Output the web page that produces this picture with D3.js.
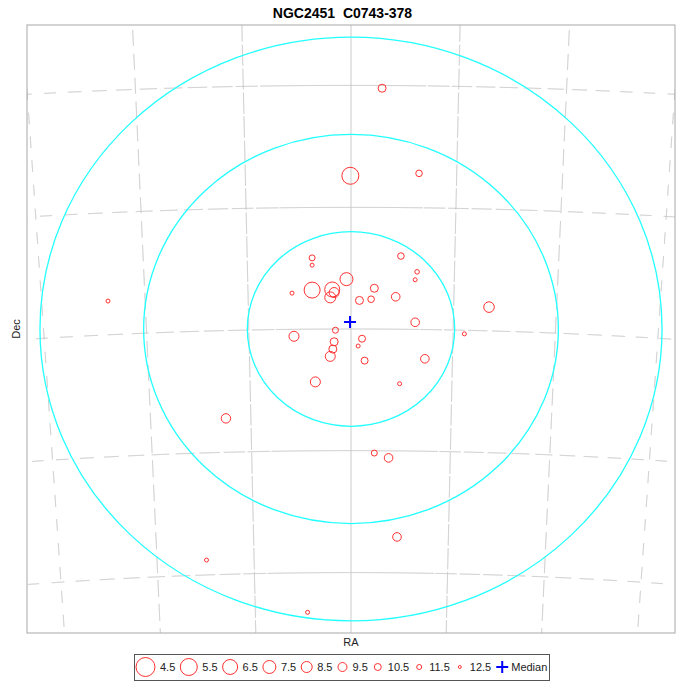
<!DOCTYPE html>
<html><head><meta charset="utf-8">
<script src="https://cdn.jsdelivr.net/npm/d3@7"></script>
<style>
body{margin:0;background:#fff;}
svg{display:block;font-family:"Liberation Sans",Arial,sans-serif;}
</style></head>
<body><svg id="c" width="685" height="682"></svg>
<script>
// ---- data ----
const title = "NGC2451  C0743-378";
const center = {ra: 116, dec: -38};          // tangent point (deg)
const gridStep = 2;                            // deg
const ringRadii = [1.6, 3.2, 4.8];             // deg
// standard coordinates (deg): xi to the right, eta up, plus magnitude
const starXi  = [-0.60,-0.60,-0.91,-0.60,-0.29,-0.26,-0.32,-0.07,0.36,0.13,0.31,0.69,0.77,1.02,0.99,0.99,-0.88,-0.24,0.17,0.11,-0.26,-0.28,-0.32,0.21,1.14,-0.55,0.75,0.48,-0.01,1.05,-3.75,2.13,1.75,-1.93,0.36,0.58,0.71,-2.23,-0.67];
const starEta = [1.17,1.05,0.59,0.64,0.65,0.60,0.52,0.82,0.67,0.47,0.49,0.53,1.20,0.94,0.81,0.11,-0.12,-0.02,-0.16,-0.28,-0.21,-0.33,-0.45,-0.52,-0.49,-0.87,-0.90,3.96,2.52,2.56,0.46,0.36,-0.08,-1.47,-2.04,-2.12,-3.42,-3.80,-4.66];
const starMag = [11.0,12.0,12.0,6.0,6.5,9.0,8.5,7.5,10.0,10.0,10.7,9.7,10.7,11.7,12.0,9.7,9.0,11.0,10.5,12.0,10.0,10.0,9.0,10.5,9.7,9.0,12.0,10.0,5.5,10.7,12.0,8.7,12.0,9.3,11.0,9.7,9.7,12.0,12.0];
const medianXi = -0.015, medianEta = 0.115;
const legendMags = [4.5,5.5,6.5,7.5,8.5,9.5,10.5,11.5,12.5];
const legendMedian = "Median";
const xLabel = "RA", yLabel = "Dec";

// ---- layout ----
const svg = d3.select("#c");
const X0=27, X1=675, Y0=25, Y1=633;
const xScale = d3.scaleLinear().domain([-5,5]).range([X0,X1]);
const yScale = d3.scaleLinear().domain([-5,5]).range([Y1,Y0]);
const rScale = d3.scaleLinear().domain([4.5,12.5]).range([9.5,1.5]);
const proj = d3.geoGnomonic().rotate([-center.ra,-center.dec]).scale(180/Math.PI).translate([0,0]);
const toPx = p => [xScale(p[0]), yScale(-p[1])];

svg.append("defs").append("clipPath").attr("id","clip")
  .append("rect").attr("x",X0).attr("y",Y0).attr("width",X1-X0).attr("height",Y1-Y0);
const plot = svg.append("g").attr("clip-path","url(#clip)");

// grid with fading dashes
const cxMid = xScale(0);
function dashedPath(pts){
  const P = 24;
  let d = "", pos = 0, drawing = false;
  for(let i=0;i<pts.length;i++){
    const p = pts[i];
    if(i>0){ const q=pts[i-1]; pos += Math.hypot(p[0]-q[0],p[1]-q[1]); }
    const off = Math.abs(p[0]-cxMid);
    const f = off<60 ? 1 : Math.max(0.5, 1-(off-60)/500);
    const vis = (pos % P) < P*f;
    if(vis){ d += (drawing?"L":"M") + p[0].toFixed(2)+","+p[1].toFixed(2); drawing=true; }
    else drawing=false;
  }
  return d;
}
const gridG = plot.append("g").attr("fill","none").attr("stroke","#c4c4c4").attr("stroke-width",1);
for(let k=-5;k<=5;k++){
  const ra = center.ra + k*gridStep, pts=[];
  for(let dec=center.dec-9; dec<=center.dec+9; dec+=0.01) pts.push(toPx(proj([ra,dec])));
  gridG.append("path").attr("d", dashedPath(pts));
}
for(let k=-4;k<=4;k++){
  const dec = center.dec + k*gridStep, pts=[];
  for(let ra=center.ra-14; ra<=center.ra+14; ra+=0.01) pts.push(toPx(proj([ra,dec])));
  gridG.append("path").attr("d", dashedPath(pts));
}

// rings
plot.selectAll("ellipse.ring").data(ringRadii).join("ellipse")
  .attr("cx", xScale(0)).attr("cy", yScale(0))
  .attr("rx", r => xScale(r)-xScale(0)).attr("ry", r => yScale(0)-yScale(r))
  .attr("fill","none").attr("stroke","#22ffff").attr("stroke-width",1.3);

// stars
const stars = starXi.map((x,i)=>({xi:x, eta:starEta[i], mag:starMag[i]}));
plot.selectAll("circle.star").data(stars).join("circle")
  .attr("cx", d=>xScale(d.xi)).attr("cy", d=>yScale(d.eta)).attr("r", d=>rScale(d.mag))
  .attr("fill","none").attr("stroke","#ff3030").attr("stroke-width",1);

// median
function cross(g,x,y){
  g.append("path").attr("d",`M${x-6},${y}H${x+6}M${x},${y-6}V${y+6}`)
   .attr("stroke","#0000ff").attr("stroke-width",2).attr("fill","none");
}
cross(plot, xScale(medianXi), yScale(medianEta));

// frame
svg.append("rect").attr("x",X0).attr("y",Y0).attr("width",X1-X0).attr("height",Y1-Y0)
  .attr("fill","none").attr("stroke","#a8a8a8").attr("stroke-width",1);

// texts
svg.append("text").attr("x",342.5).attr("y",18).attr("text-anchor","middle")
  .style("white-space","pre").attr("font-weight","bold").attr("font-size",14).text(title);
svg.append("text").attr("x",xScale(0)).attr("y",646).attr("text-anchor","middle")
  .attr("font-size",11).attr("fill","#222").text(xLabel);
svg.append("text").attr("transform",`translate(20,${yScale(0)}) rotate(-90)`).attr("text-anchor","middle")
  .attr("font-size",11).attr("fill","#222").text(yLabel);

// legend
const LX0=134, LX1=549, LY0=654, LY1=680, LCY=(LY0+LY1)/2;
svg.append("rect").attr("x",LX0+0.5).attr("y",LY0+0.5).attr("width",LX1-LX0).attr("height",LY1-LY0)
  .attr("fill","#fff").attr("stroke","#555").attr("stroke-width",1);
const lg = svg.append("g");
let cursor = LX0 + 2;
legendMags.forEach(m=>{
  const r = rScale(m), h = Math.max(r,5);
  const cx = cursor + h;
  lg.append("circle").attr("cx",cx).attr("cy",LCY).attr("r",r)
    .attr("fill","none").attr("stroke","#ff3030").attr("stroke-width",1);
  const t = lg.append("text").attr("x",cx+h+5).attr("y",LCY+4).attr("font-size",11).attr("fill","#222").text(m.toFixed(1));
  cursor = cx + h + 5 + t.node().getComputedTextLength() + 5;
});
{
  const cx = cursor + 6;
  cross(lg, cx, LCY);
  lg.append("text").attr("x",cx+9).attr("y",LCY+4).attr("font-size",11).attr("fill","#222").text(legendMedian);
}
</script></body></html>
